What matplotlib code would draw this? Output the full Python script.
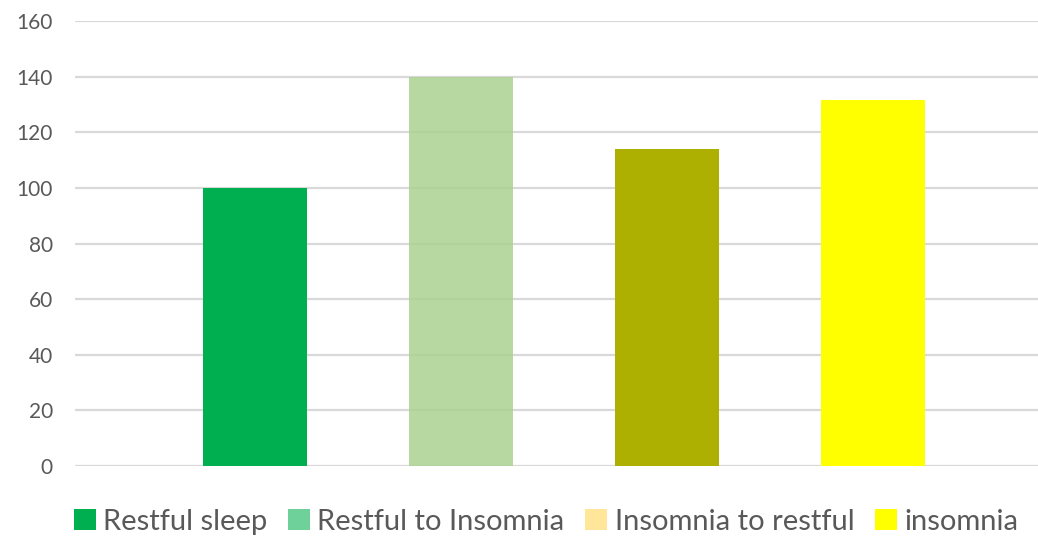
import matplotlib.pyplot as plt
from matplotlib.patches import Patch

# sleep-pattern groups and their counts
groups = ["Restful sleep", "Restful to Insomnia", "Insomnia to restful", "insomnia"]
counts = [100, 140, 114, 131.5]
bar_colors = ["#00B050", "#A9D18E", "#ADB000", "#FFFF00"]
bar_alpha = [1.0, 0.83, 1.0, 1.0]
legend_colors = ["#00B050", "#6FD19A", "#FFE699", "#FFFF00"]
yticks = [0, 20, 40, 60, 80, 100, 120, 140, 160]

plt.rcParams["font.family"] = ["Lato", "DejaVu Sans"]
text_gray = "#595959"
grid_gray = "#D9D9D9"

fig = plt.figure(figsize=(10.38, 5.36), dpi=100)
ax = fig.add_axes([75 / 1038, 1 - 466 / 536, 1 - 75 / 1038, 445 / 536])

x = list(range(len(groups)))
for xi, v, c, a in zip(x, counts, bar_colors, bar_alpha):
    ax.bar(xi, v, width=0.505, color=c, alpha=a, zorder=2)

ax.set_xlim(-0.876, 3.80)
ax.set_ylim(0, 160)
ax.set_yticks(yticks)
ax.set_yticklabels([str(t) for t in yticks])
ax.set_xticks([])
ax.yaxis.grid(True, color=grid_gray, linewidth=1.6, zorder=0)
ax.set_axisbelow(True)
for s in ax.spines.values():
    s.set_visible(False)
ax.axhline(0, color=grid_gray, linewidth=2.2, zorder=1)
ax.tick_params(axis="y", length=0, pad=16, labelsize=15, labelcolor=text_gray)

handles = [Patch(facecolor=c, edgecolor="none") for c in legend_colors]
fig.legend(handles, groups, loc="center", bbox_to_anchor=(0.526, 0.027), ncol=4,
           frameon=False, fontsize=21, labelcolor=text_gray,
           handlelength=0.75, handleheight=0.75, handletextpad=0.25,
           columnspacing=0.72, borderaxespad=0, borderpad=0)

fig.savefig("out.png", dpi=100)
